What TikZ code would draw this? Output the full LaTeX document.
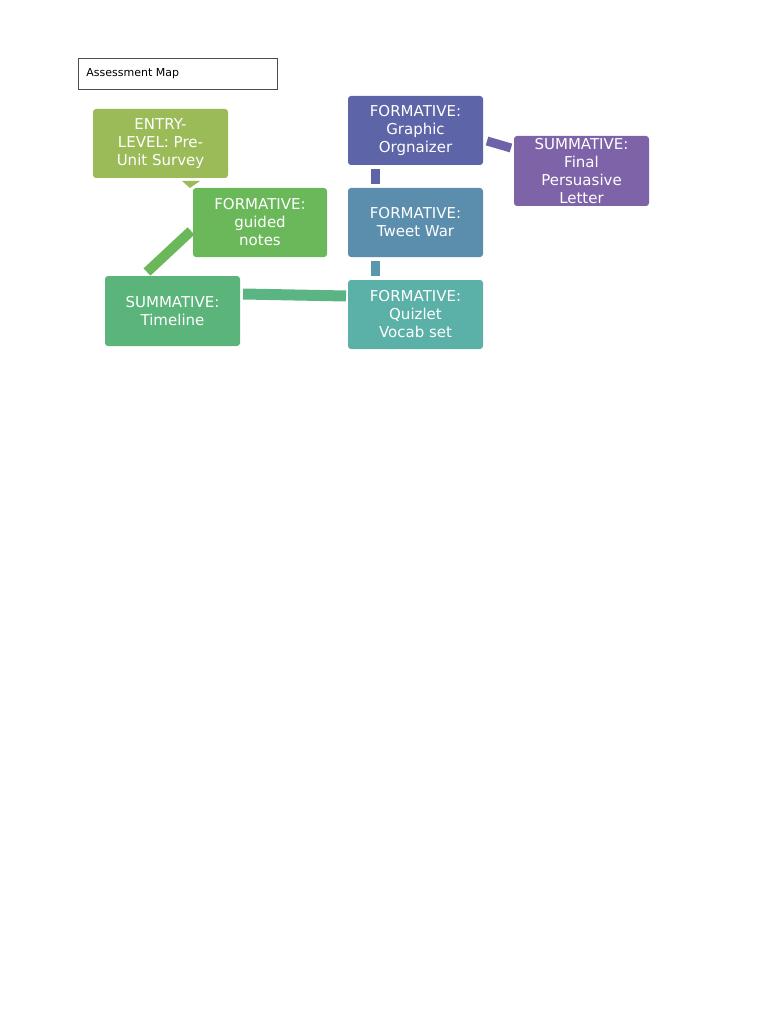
\documentclass[tikz,border=0pt]{standalone}
\usepackage{fontspec}
\setmainfont{DejaVu Sans}
\begin{document}
\begin{tikzpicture}[x=1pt,y=-1pt,
 box/.style={rounded corners=3pt,text=white,align=center,inner sep=0pt,font=\fontsize{15}{18}\selectfont},
 lnk/.style={line width=#1},
]
\useasboundingbox[fill=white] (0,0) rectangle (768,1024);
\definecolor{cA}{HTML}{9BBB59}\definecolor{cB}{HTML}{6BB85A}\definecolor{cC}{HTML}{5BB57A}
\definecolor{cD}{HTML}{5E64A8}\definecolor{cE}{HTML}{5B8DAD}\definecolor{cF}{HTML}{5BB0A8}\definecolor{cG}{HTML}{7E63A8}
\node[draw=black!70,line width=0.7pt,minimum width=199,minimum height=31,anchor=north west,inner sep=8pt,text width=183,align=left,font=\fontsize{11}{13}\selectfont] (title) at (78,58) {Assessment Map};
\path[box,fill=cA] (93,109) rectangle (228,178) node[midway] (entry) {ENTRY-\\LEVEL: Pre-\\Unit Survey};
\path[box,fill=cB] (193,188) rectangle (327,257) node[midway] (guided) {FORMATIVE:\\guided\\notes};
\path[box,fill=cC] (105,276) rectangle (240,346) node[midway] (time) {SUMMATIVE:\\Timeline};
\path[box,fill=cD] (348,96) rectangle (483,165) node[midway] (graph) {FORMATIVE:\\Graphic\\Orgnaizer};
\path[box,fill=cE] (348,188) rectangle (483,257) node[midway] (tweet) {FORMATIVE:\\Tweet War};
\path[box,fill=cF] (348,280) rectangle (483,349) node[midway] (quiz) {FORMATIVE:\\Quizlet\\Vocab set};
\path[box,fill=cG] (514,136) rectangle (649,206) node[midway] (final) {SUMMATIVE:\\Final\\Persuasive\\Letter};
\fill[cA] (182,181) -- (200,181) -- (190,188) -- cycle;
\draw[cB,line width=10pt] (191,231) -- (147,272);
\draw[cC!80!cF,line width=11pt] (243,294) -- (346,296);
\draw[cE!70!cF,line width=9pt] (375,261) -- (375,276);
\draw[cD,line width=9pt] (375,169) -- (375,184);
\draw[cD!50!cG,line width=9pt] (487,141) -- (511,148);
\end{tikzpicture}
\end{document}
